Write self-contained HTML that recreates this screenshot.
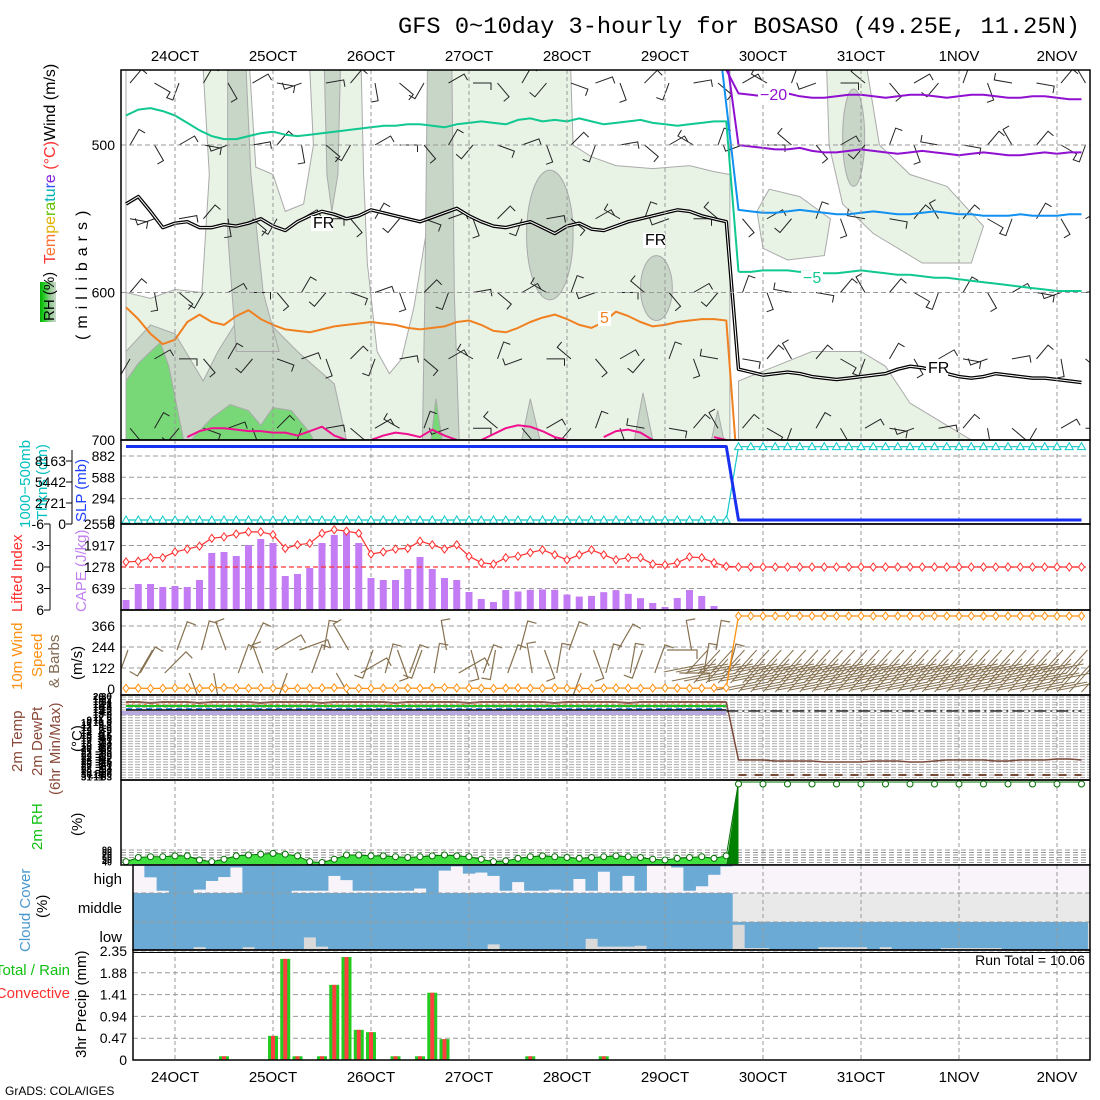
<!DOCTYPE html>
<html><head><meta charset="utf-8"><title>GFS meteogram BOSASO</title>
<style>
html,body{margin:0;padding:0;background:#fff;}
svg{display:block;font-family:"Liberation Sans",sans-serif;}
</style></head>
<body>
<svg id="chart" width="1100" height="1100" viewBox="0 0 1100 1100" xmlns="http://www.w3.org/2000/svg">
<rect x="0" y="0" width="1100" height="1100" fill="#fff"/>
<text x="398" y="33" font-family="Liberation Mono, monospace" font-size="23" textLength="682" lengthAdjust="spacingAndGlyphs">GFS 0~10day 3-hourly for BOSASO (49.25E, 11.25N)</text>
<text x="5" y="1095" font-size="12">GrADS: COLA/IGES</text>
<defs>
<clipPath id="cTop"><rect x="121" y="70" width="969" height="370"/></clipPath>
<clipPath id="cWind"><rect x="121" y="610" width="969" height="85"/></clipPath>
<linearGradient id="rhg" x1="0" y1="0" x2="1" y2="0"><stop offset="0" stop-color="#00b000"/><stop offset="0.3" stop-color="#30d030"/><stop offset="0.6" stop-color="#90c890"/><stop offset="1" stop-color="#c8d8c8"/></linearGradient>
</defs>
<g id="leftTitles" font-size="15">
<rect x="40" y="282" width="16" height="40" fill="url(#rhg)"/>
<text transform="translate(54,321) rotate(-90)" font-size="15">RH (%)</text>
<text transform="translate(87,340) rotate(-90)" font-size="16" letter-spacing="6">(millibars)</text>
<text transform="translate(55,264) rotate(-90)" font-size="16"><tspan fill="#ff3030">T</tspan><tspan fill="#ff7030">em</tspan><tspan fill="#e0b000">pe</tspan><tspan fill="#60c000">ra</tspan><tspan fill="#00b0b0">tu</tspan><tspan fill="#3050ff">r</tspan><tspan fill="#8020e0">e</tspan><tspan fill="#ff3030"> (°C)</tspan><tspan fill="#000">Wind (m/s)</tspan></text>
<text transform="translate(30,528) rotate(-90)" fill="#00c0c0">1000−500mb</text>
<text transform="translate(47,520) rotate(-90)" fill="#00c0c0">Thkns (dm)</text>
<text transform="translate(86,522) rotate(-90)" fill="#2040ff">SLP (mb)</text>
<text transform="translate(22,612) rotate(-90)" fill="#ff3030">Lifted Index</text>
<text transform="translate(86,612) rotate(-90)" fill="#c080f0">CAPE (J/kg)</text>
<text transform="translate(22,690) rotate(-90)" fill="#ff9010">10m Wind</text>
<text transform="translate(42,677) rotate(-90)" fill="#ff9010">Speed</text>
<text transform="translate(59,688) rotate(-90)" fill="#806850">&amp; Barbs</text>
<text transform="translate(82,680) rotate(-90)">(m/s)</text>
<text transform="translate(22,772) rotate(-90)" fill="#884838">2m Temp</text>
<text transform="translate(42,776) rotate(-90)" fill="#884838">2m DewPt</text>
<text transform="translate(60,795) rotate(-90)" fill="#884838">(6hr Min/Max)</text>
<text transform="translate(82,752) rotate(-90)">(°C)</text>
<text transform="translate(42,850) rotate(-90)" fill="#10c010">2m RH</text>
<text transform="translate(82,836) rotate(-90)">(%)</text>
<text transform="translate(30,952) rotate(-90)" fill="#4898d0">Cloud Cover</text>
<text transform="translate(47,918) rotate(-90)">(%)</text>
<text transform="translate(86,1058) rotate(-90)">3hr Precip (mm)</text>
<text x="70" y="975" text-anchor="end" fill="#10c010">Total / Rain</text>
<text x="70" y="998" text-anchor="end" fill="#ff3030">Convective</text>
<text x="1085" y="965" text-anchor="end" font-size="14">Run Total = 10.06</text>
</g>
</svg>
<script>
// ---------- data ----------
const dayLabels=["24OCT","25OCT","26OCT","27OCT","28OCT","29OCT","30OCT","31OCT","1NOV","2NOV"];
const presTicks=[500,600,700];
const slpTicks=[882,588,294,0];
const thkTicks=[8163,5442,2721,0];
const capeTicks=[2556,1917,1278,639];
const liTicks=[-6,-3,0,3,6];
const wsTicks=[366,244,122,0];
const prTicks=[2.35,1.88,1.41,0.94,0.47,0];
const greenPre=[480,476,475,477,480,485,490,494,496,496,494,492,491,493,494,493,492,491,490,489,488,487,487,486,486,487,488,486,485,484,485,486,483,482,484,483,484,482,484,486,485,484,483,485,486,487,486,485,484,484];
const frPre=[540,535,545,556,553,552,556,556,554,555,553,550,555,558,552,548,545,547,550,548,544,546,548,550,552,549,546,543,548,552,555,556,554,552,556,560,555,553,557,558,555,552,550,548,546,544,545,548,550,552];
const orangePre=[610,618,628,635,632,620,615,620,622,616,612,618,622,625,626,627,625,623,622,621,620,621,622,624,625,624,623,620,619,622,626,627,624,620,617,615,618,622,624,620,613,616,620,623,622,620,619,618,618,619];
const magentaPre=[null,null,null,null,null,698,694,692,692,693,694,694,695,695,697,694,691,697,700,null,700,697,695,696,698,693,697,700,null,700,696,692,690,691,694,698,700,null,null,698,694,693,695,700,null,null,null,null,698,700];
const purple1Post=[465,466,467,466,465,467,468,468,467,466,466,467,468,467,466,466,467,468,467,466,466,467,468,468,467,467,468,469,469];
const purple2Post=[500,501,502,503,503,502,504,505,505,504,503,504,505,506,505,504,505,506,507,506,505,506,507,507,506,505,506,505,505];
const bluePost=[544,545,546,546,545,544,545,546,547,547,546,545,546,547,547,546,545,546,547,547,548,548,548,547,548,548,548,547,547];
const greenPost=[586,586,585,585,585,586,586,587,587,586,585,586,587,588,588,589,590,590,591,592,593,594,595,596,597,598,599,599,599];
const frPost=[652,654,656,655,654,655,657,658,659,658,657,656,655,652,650,651,653,655,657,658,657,655,656,657,658,658,659,660,661];
const rhLight=[[0,449],[49.3,449],[49.3,700],[0,700]];
const rhWhite=[
 [[0,449],[6.3,449],[6.8,520],[6.2,600],[4,598],[2,604],[0,600]],
 [[10.1,449],[15,449],[15.3,500],[14.5,540],[13,545],[12,520],[10.6,515]],
 [[19.2,449],[24.7,449],[24.5,560],[23.5,610],[22.5,645],[21.5,655],[20.5,640],[19.7,580],[19.4,520]],
 [[36.3,449],[49.3,449],[49.3,520],[48,518],[46,514],[43,516],[40,514],[38,508],[36.5,500]]];
const rhGrey=[
 [[0,700],[0,640],[2,622],[4,628],[6.3,660],[7.5,640],[9,620],[11,615],[14,640],[17,662],[18,700]],
 [[8.3,449],[9.8,449],[10.2,520],[11.2,600],[12.5,640],[9,640],[8.3,560]],
 [[16.2,449],[17.5,449],[17.3,520],[16.8,545],[16.4,520]],
 [[24.6,449],[26.6,449],[26.8,600],[27.2,700],[24.2,700],[24.4,600]],
 [[32.3,700],[33,672],[33.8,700]],[[41.5,700],[42.2,668],[43,700]],[[47.8,700],[48.3,680],[48.8,700]]];
const rhGreyEllipse=[[34.6,561,1.9,44],[43.3,597,1.3,22],[59.4,495,0.9,33]];
const rhGreen=[
 [[0,700],[0,660],[1,648],[2,640],[2.8,634],[3.5,650],[4.7,700]],
 [[5.3,700],[7,685],[8.5,676],[10,680],[11,690],[12,678],[13.5,680],[15,695],[15.3,700]],
 [[24.9,700],[25.3,672],[25.8,700]]];
const rhLightPost=[
 [[57.2,449],[60.5,449],[61.5,500],[64,520],[67,528],[70,555],[69,580],[65,580],[61,560],[58.5,540],[57.4,500]],
 [[51.5,545],[52.5,530],[55,535],[57.5,550],[57,575],[54,578],[52,570]],
 [[50,700],[50,660],[53,650],[56,640],[60,640],[62,650],[64,675],[67,690],[69,700]]];
const barbLevels=[458,500,550,600,645,692];
const barbDir=[40,120,200,30,150,60,100,250,80,40,170,130,210,60,90,140,30,220,110,70,160,45,200,80,130,60,300,20,250,90,310,140,60,220,20,160,280,100,40,330];
const slpPre=[1012,1012,1012,1012,1012,1013,1013,1013,1013,1012,1012,1012,1012,1012,1012,1013,1013,1013,1013,1012,1012,1012,1012,1012,1012,1012,1012,1012,1012,1012,1012,1012,1012,1012,1012,1012,1012,1012,1012,1012,1012,1012,1012,1012,1012,1012,1012,1012,1012,1012];
const thkPost=9500;
const liPre=[-0.7,-0.8,-1.3,-1.3,-2.1,-2.5,-2.9,-4.0,-4.2,-4.6,-4.9,-4.9,-4.5,-2.6,-3.1,-3.3,-4.7,-5.2,-5.0,-4.7,-1.8,-2.1,-2.5,-2.6,-3.6,-3.1,-2.5,-3.1,-1.5,-0.6,-0.4,-1.3,-1.5,-2.0,-2.4,-1.7,-1.0,-1.7,-2.4,-1.7,-1.0,-1.3,-1.3,-0.4,-0.3,-0.6,-1.4,-1.3,-0.6,-0.1];
const capePre=[297,773,773,684,713,684,892,1694,1724,1605,1932,2110,1991,1010,1070,1248,1991,2229,2318,1991,951,892,892,1219,1575,1219,951,892,535,327,238,594,550,600,610,600,460,400,420,530,590,480,352,208,89,357,594,416,119,0];
const wsPre=[4,5,3,4,6,5,4,7,8,5,4,6,5,3,4,5,6,7,5,4,3,5,6,5,4,7,8,6,5,4,3,5,6,5,4,6,5,4,3,5,6,5,4,5,6,5,4,5,6,8];
const wsPost=424;
const wind10Dir=[200,30,210,45,20,160,15,170,340,20,25,340,60,200,70,20,10,150,330,60,200,15,160,20,200,10,350,60,165,20,190,20,15,350,160,10,20,200,160,15,30,10,200,20,90,90,350,10,10,15];
const t2Brown=[24,24,23,24,24,24,23,24,24,24,24,23,24,24,24,24,23,24,24,24,24,24,23,24,24,24,24,24,23,24,24,24,24,24,24,23,24,24,24,24,24,23,24,24,24,24,24,24,24,24];
const t2Green=20, t2Blue=17, t2Black=16, t2Purple=14;
const t2BrownPost=[-34,-34,-34,-35,-35,-35,-35,-36,-36,-36,-36,-35,-35,-35,-36,-36,-35,-34,-34,-34,-34,-35,-35,-34,-34,-34,-33,-33,-34];
const t2DashPost=-49, t2DashDot=15;
const rhPre=[4,9,10,10,11,11,6,4,7,11,12,13,14,13,11,4,3,7,12,12,11,11,10,9,10,11,12,11,10,7,4,5,8,10,11,10,9,8,9,10,11,10,9,7,6,8,9,10,8,11];
const rhPost=100;
const cloudHigh=[0.03,0.03,0.44,0.92,1,1,0.88,0.57,0.43,0.09,1,1,1,1,0.92,0.92,0.92,0.39,0.54,0.92,0.92,0.92,0.92,0.92,0.84,1,0.2,0.05,0.31,0.27,0.39,0.92,0.61,0.92,0.92,0.88,0.92,0.5,0.92,0.24,0.92,0.39,0.92,0,0,0.09,0.92,0.76,0.35,0.05];
const cloudMid=1;
const cloudLow=[1,1,1,1,1,1,0.9,1,1,1,0.9,1,1,1,1,0.55,0.88,1,1,1,1,1,1,1,1,1,1,1,1,1,0.8,1,1,1,1,1,1,1,0.6,0.88,0.88,0.88,0.85,1,1,1,1,1,1,1];
const cloudLowPost=[0.1,0.93,0.93,1,1,1,1,0.9,0.9,0.9,0.9,1,0.9,1,1,1,1,0.93,0.93,0.93,0.93,0.93,1,1,1,1,1,1,1];
const precip=[0,0,0,0,0,0,0,0,0.08,0,0,0,0.52,2.18,0.08,0,0.08,1.62,2.22,0.65,0.6,0,0.08,0,0.08,1.45,0.45,0,0,0,0,0,0,0.08,0,0,0,0,0,0.08,0,0,0,0,0,0,0,0,0,0];
// ---------- helpers / axes ----------
const NS='http://www.w3.org/2000/svg';
const svg=document.getElementById('chart');
function mk(tag,attrs,parent){const e=document.createElementNS(NS,tag);for(const k in attrs)e.setAttribute(k,attrs[k]);(parent||svg).appendChild(e);return e;}
const NT=79, JUMP=49;
const X=i=>126+12.25*i;
const P=mb=>440-(700-mb)*1.475;
const SLPy=v=>520-v*0.0726;
const THKy=v=>520-v*(63/8163);
const CAPEy=v=>610-v*86/2556;
const LIy=v=>567+v*7.17;
const WSy=v=>689-v*63/366;
const T2y=v=>695+(31-v);
const RHy=v=>865-v*0.83;
const PRy=v=>1060-v*109/2.35;
const dayX=d=>175+98*d;
function ptsIdx(arr,off,yf){return arr.map((v,k)=>X(k+off).toFixed(1)+','+yf(v).toFixed(1)).join(' ');}
function ptsPoly(poly){return poly.map(p=>X(p[0]).toFixed(1)+','+P(p[1]).toFixed(1)).join(' ');}
function vgrid(g,y0,y1){dayLabels.forEach((d,k)=>{const l=mk('line',{x1:dayX(k),x2:dayX(k),y1:y0,y2:y1,stroke:'#999',"stroke-dasharray":'4,3'},g);

});}
function hgrid(g,y,x0){const l=mk('line',{x1:x0,x2:1090,y1:y,y2:y,stroke:'#999',"stroke-dasharray":'5,3'},g);

}
function ylab(g,txt,y,x){const t=mk('text',{x:x||115,y:y+5,"text-anchor":'end',"font-size":14},g);t.textContent=txt;

}
function box(g,x0,y0,x1,y1){const r=mk('rect',{x:x0,y:y0,width:x1-x0,height:y1-y0,fill:'none',stroke:'#000',"stroke-width":1.5},g);

}
function grp(name){const g=mk('g',{});return g;}

dayLabels.forEach((d,k)=>{[61,1082].forEach(y=>{const t=mk('text',{x:dayX(k),y:y,"text-anchor":'middle',"font-size":15});t.textContent=d;

});});

// ---------- top panel ----------
const gt=grp('upper-air-panel');
const gc=mk('g',{"clip-path":'url(#cTop)'},gt);


function fillPoly(poly,color,name){const e=mk('polygon',{points:ptsPoly(poly),fill:color,stroke:'#aaa',"stroke-width":1},gc);

}
fillPoly(rhLight,'#e8f3e6','rh-light-region');
rhWhite.forEach(p=>fillPoly(p,'#ffffff','rh-dry-region'));
rhGrey.forEach(p=>fillPoly(p,'#c8d6c8','rh-moist-region'));
rhGreen.forEach(p=>fillPoly(p,'#78d878','rh-wet-region'));
rhLightPost.forEach(p=>fillPoly(p,'#e8f3e6','rh-light-region'));
rhGreyEllipse.forEach(e=>{const el=mk('ellipse',{cx:X(e[0]),cy:P(e[1]),rx:e[2]*12.25,ry:e[3]*1.475,fill:'#c8d6c8',stroke:'#aaa'},gc);

});
presTicks.slice(0,2).forEach(p=>hgrid(gt,P(p),121));
vgrid(gt,70,440);
presTicks.forEach(p=>ylab(gt,String(p),P(p)));
barbLevels.forEach((lv,li)=>{for(let i=0;i<NT;i+=2){const a=(barbDir[(i/2+li*3)%barbDir.length])*Math.PI/180;const x=X(i)+4,y=P(lv);
const x2=x+Math.sin(a)*18,y2=y-Math.cos(a)*18;
const b=mk('path',{d:`M${x},${y}L${x2},${y2}l${Math.cos(a)*7},${Math.sin(a)*7}`,stroke:'#222',fill:'none',"stroke-width":1},gc);

}});
function line(g,pts,color,w,name,dash){const e=mk('polyline',{points:pts,fill:'none',stroke:color,"stroke-width":w,"stroke-linejoin":'round'},g);if(dash)e.setAttribute('stroke-dasharray',dash);

return e;}
line(gc,ptsIdx(greenPre,0,P)+' '+X(50)+','+P(greenPost[0]),'#10c890',2,'isotherm-minus10');
line(gc,ptsIdx(orangePre,0,P)+' '+(X(49)+9)+','+P(700),'#f08020',2,'isotherm-5');
let seg=[];magentaPre.forEach((v,k)=>{if(v===null){if(seg.length>1)line(gc,seg.join(' '),'#f0108f',2,'isotherm-10');seg=[];}else seg.push(X(k)+','+P(v));});if(seg.length>1)line(gc,seg.join(' '),'#f0108f',2,'isotherm-10');
const frAll=ptsIdx(frPre,0,P)+' '+ptsIdx(frPost,50,P);
line(gc,frAll,'#000',3.5,'freezing-level-outer');
line(gc,frAll,'#fff',1,'freezing-level-inner');
line(gc,X(49)+','+P(449)+' '+ptsIdx(purple1Post,50,P),'#9010d0',2,'isotherm-minus20');
line(gc,(X(49)+2)+','+P(449)+' '+ptsIdx(purple2Post,50,P),'#9010d0',2,'isotherm-minus15');
line(gc,(X(49)-4)+','+P(449)+' '+ptsIdx(bluePost,50,P),'#1090f0',2,'isotherm-minus10-post');
line(gc,ptsIdx(greenPost,50,P),'#10c890',2,'isotherm-minus5');
function clab(txt,x,y,c,name){const r=mk('rect',{x:x-2,y:y-12,width:txt.length*9+4,height:15,fill:'#fff'},gt);


const t=mk('text',{x:x,y:y,fill:c,"font-size":16},gt);t.textContent=txt;

}
clab('FR',313,228,'#000','fr-label');clab('FR',645,245,'#000','fr-label');clab('FR',928,373,'#000','fr-label');
clab('5',600,323,'#f08020','contour-label-5');clab('−20',760,100,'#9010d0','contour-label-minus20');clab('−5',803,283,'#10c890','contour-label-minus5');
box(gt,121,70,1090,440);

// ---------- SLP / thickness ----------
const gs=grp('slp-panel');
slpTicks.forEach(v=>{if(v>0)hgrid(gs,SLPy(v),121);ylab(gs,String(v),SLPy(v));});
vgrid(gs,440,524);
thkTicks.forEach((v,k)=>{const y=461+k*21;ylab(gs,String(v),y,66);const tk=mk('line',{x1:66,x2:72,y1:y,y2:y,stroke:'#000'},gs);

});
{const a=mk('line',{x1:72,x2:72,y1:450,y2:524,stroke:'#000'},gs);}
const thkPts=[];for(let i=0;i<NT;i++)thkPts.push(X(i)+','+THKy(i<=JUMP?0:thkPost));
line(gs,thkPts.join(' '),'#10c8c8',1.2,'thickness-line');
for(let i=0;i<NT;i++){const y=THKy(i<=JUMP?0:thkPost);const tr=mk('polygon',{points:`${X(i)},${y-4} ${X(i)-4},${y+3} ${X(i)+4},${y+3}`,fill:'#fff',stroke:'#10c8c8'},gs);

}
const slpPts=ptsIdx(slpPre,0,SLPy)+' '+X(50)+','+SLPy(0)+' '+X(78)+','+SLPy(0);
line(gs,slpPts,'#1830f0',3,'slp-line');
box(gs,121,440,1090,524);

// ---------- CAPE / LI ----------
const gp=grp('cape-panel');
capeTicks.forEach(v=>{if(v<2556)hgrid(gp,CAPEy(v),121);ylab(gp,String(v),CAPEy(v));});
vgrid(gp,524,610);
capePre.forEach((v,k)=>{const b=mk('rect',{x:X(k)-3.5,y:CAPEy(v),width:7,height:610-CAPEy(v),fill:'#c47cf4'},gp);

});
{const l=mk('line',{x1:121,x2:1090,y1:LIy(0),y2:LIy(0),stroke:'#ff3030',"stroke-dasharray":'5,3',"stroke-width":1.3},gp);}
liTicks.forEach(v=>{ylab(gp,String(v),LIy(v),44);const tk=mk('line',{x1:44,x2:50,y1:LIy(v),y2:LIy(v),stroke:'#000'},gp);

});
{const a=mk('line',{x1:50,x2:50,y1:524,y2:610,stroke:'#000'},gp);}
const liAll=liPre.concat(new Array(NT-50).fill(0));
line(gp,ptsIdx(liAll,0,LIy),'#ff3030',1.2,'lifted-index-line');
liAll.forEach((v,k)=>{const x=X(k),y=LIy(v);const d=mk('polygon',{points:`${x},${y-4} ${x+3},${y} ${x},${y+4} ${x-3},${y}`,fill:'#fff',stroke:'#ff3030'},gp);

});
box(gp,121,524,1090,610);

// ---------- 10m wind ----------
const gw=grp('wind10-panel');
wsTicks.forEach(v=>{if(v>0)hgrid(gw,WSy(v),121);ylab(gw,String(v),WSy(v));});
vgrid(gw,610,695);
const gwc=mk('g',{"clip-path":'url(#cWind)'},gw);


wind10Dir.forEach((dg,k)=>{const a=dg*Math.PI/180;const x=X(k)+2,y=(k%2?673:650);
const b=mk('path',{d:`M${x},${y}L${x+Math.sin(a)*30},${y-Math.cos(a)*30}l${Math.cos(a)*9},${Math.sin(a)*9}`,stroke:'#86714f',fill:'none',"stroke-width":1.2},gwc);

});
for(let i=47;i<NT;i++){for(let r=0;r<3;r++){const x=X(i)-r*8,y=692-r*9;if(i<50&&r<1)continue;
const h=mk('path',{d:`M${x},${y}l22,-24M${x-22},${y-2}l40,-8`,stroke:'#86714f',fill:'none',"stroke-width":1},gwc);

}}
const wsAll=wsPre.concat(new Array(NT-50).fill(wsPost));
line(gw,ptsIdx(wsAll,0,WSy),'#ff9010',1.3,'wind10-speed-line');
wsAll.forEach((v,k)=>{const x=X(k),y=WSy(v);const d=mk('polygon',{points:`${x},${y-4} ${x+3},${y} ${x},${y+4} ${x-3},${y}`,fill:'#fff',stroke:'#ff9010'},gw);

});
box(gw,121,610,1090,695);

// ---------- 2m temp ----------
const gT=grp('t2m-panel');
for(let k=0;k<32;k++){const y=697+k*2.6;const l=mk('line',{x1:121,x2:1090,y1:y,y2:y,stroke:'#aaa',"stroke-dasharray":'5,2'},gT);


const t=mk('text',{x:112,y:y+3,"text-anchor":'end',"font-size":10,"font-weight":'bold'},gT);t.textContent=String(30-k*3);


const t2=mk('text',{x:104,y:y+3,"text-anchor":'end',"font-size":10,"font-weight":'bold'},gT);t2.textContent=String(20-k);


if(k>8){const t3=mk('text',{x:92,y:y+3,"text-anchor":'end',"font-size":10,"font-weight":'bold'},gT);t3.textContent=String(k);

}}
vgrid(gT,695,780);
{const b=mk('rect',{x:121,y:T2y(t2Purple)-1,width:X(49)-121,height:4,fill:'#b8a8e0'},gT);}
line(gT,ptsIdx(t2Brown,0,T2y),'#8b5a4a',2,'t2m-max-line');
line(gT,ptsIdx(t2Brown.map(v=>v-2),0,T2y),'#e08040',1,'t2m-line','3,3');
line(gT,ptsIdx(new Array(50).fill(t2Green),0,T2y),'#20c020',2,'dewpt-line');
line(gT,ptsIdx(new Array(50).fill(t2Blue),0,T2y),'#3090f0',2,'dewpt-min-line','6,4');
line(gT,ptsIdx(new Array(50).fill(t2Black),0,T2y),'#000',1.5,'t2m-min-line');
line(gT,X(49)+','+T2y(t2Brown[49])+' '+ptsIdx(t2BrownPost,50,T2y),'#7a4a3a',1.5,'t2m-post-line');
line(gT,ptsIdx(new Array(29).fill(t2DashPost),50,T2y),'#7a4a3a',2,'dewpt-post-line','8,8');
line(gT,ptsIdx(new Array(30).fill(t2DashDot),49,T2y),'#000',1.3,'t2m-dashdot-line','12,4,2,4');
box(gT,121,695,1090,780);

// ---------- 2m RH ----------
const gR=grp('rh2m-panel');
for(let k=0;k<6;k++){const y=850+k*2.5;hgrid(gR,y,121);
const t=mk('text',{x:112,y:y+3,"text-anchor":'end',"font-size":9,"font-weight":'bold'},gR);t.textContent=String(90-k*10);

}
vgrid(gR,780,865);
{const a=mk('polygon',{points:X(0)+',864 '+ptsIdx(rhPre,0,RHy)+' '+X(49)+',864',fill:'#40e040'},gR);}
{const a=mk('polygon',{points:`${X(49)},864 ${X(50)},${RHy(rhPost)} ${X(50)},864`,fill:'#008000'},gR);}
const rhAll=rhPre.concat(new Array(NT-50).fill(rhPost));
line(gR,ptsIdx(rhAll,0,RHy),'#007000',1,'rh-line');
rhAll.forEach((v,k)=>{if(k>JUMP&&k%2==1)return;const c=mk('circle',{cx:X(k),cy:RHy(v)+(k>JUMP?2:0),r:3,fill:'#fff',stroke:'#007000'},gR);

});
box(gR,121,780,1090,865);

// ---------- cloud ----------
const gC=grp('cloud-panel');
{const r=mk('rect',{x:133,y:865,width:957,height:28,fill:'#f8f4fa'},gC);}
{const r=mk('rect',{x:133,y:893,width:957,height:29,fill:'#e9e9e9'},gC);}
{const r=mk('rect',{x:133,y:922,width:957,height:28,fill:'#dadada'},gC);}
function cbar(i,y0,h,v,name){const x0=Math.max(133,X(i)-6.125),x1=Math.min(1090,X(i)+6.125);if(x1<=x0||v<=0)return;
const r=mk('rect',{x:x0,y:y0,width:x1-x0+0.3,height:h*v,fill:'#6aaad4'},gC);

}
cloudHigh.forEach((v,k)=>cbar(k,865,28,v,'high-cloud-bar'));
for(let k=0;k<50;k++)cbar(k,893,29,cloudMid,'middle-cloud-bar');
cloudLow.forEach((v,k)=>cbar(k,922,28,v,'low-cloud-bar'));
cloudLowPost.forEach((v,k)=>cbar(k+50,922,28,v,'low-cloud-bar'));
[893,922].forEach(y=>hgrid(gC,y,133));
vgrid(gC,865,950);
[['high',884],['middle',913],['low',942]].forEach(a=>{const t=mk('text',{x:122,y:a[1],"text-anchor":'end',"font-size":15},gC);t.textContent=a[0];

});
box(gC,133,865,1090,950);

// ---------- precip ----------
const gP=grp('precip-panel');
prTicks.forEach(v=>{if(v>0)hgrid(gP,PRy(v),133);ylab(gP,String(v),PRy(v),127);});
vgrid(gP,950,1060);
precip.forEach((v,k)=>{if(v<=0)return;const y=PRy(v);
const g=mk('rect',{x:X(k)-5,y:y,width:10,height:1060-y,fill:'#22cc22'},gP);


const r=mk('rect',{x:X(k)-2,y:y,width:4,height:1060-y,fill:'#ff4040'},gP);

});
box(gP,133,950,1090,1060);
{const l=mk('line',{x1:133,x2:1090,y1:952.5,y2:952.5,stroke:'#000'},gP);}
</script>
</body></html>
